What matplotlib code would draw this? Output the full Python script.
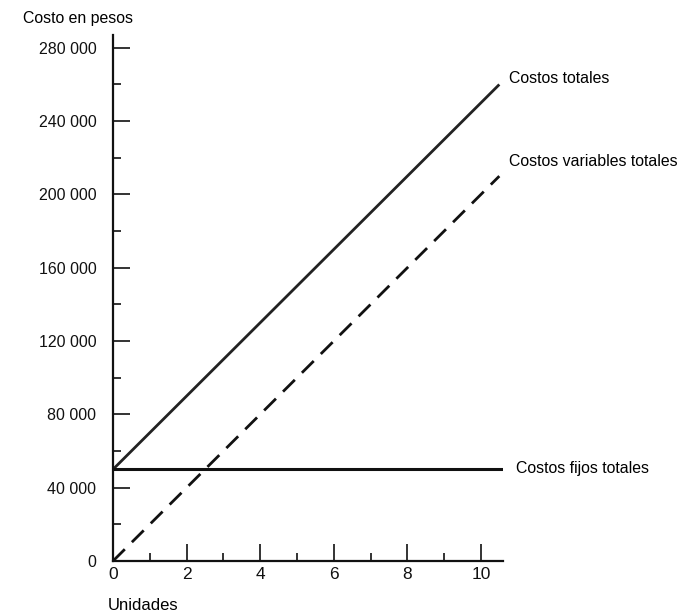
import matplotlib
matplotlib.use("Agg")
import matplotlib.pyplot as plt
import numpy as np

plt.rcParams['font.family'] = ['Liberation Sans', 'DejaVu Sans']

units = [0, 10.5]
fixed_units = [0, 10.6]
fixed_cost = [50000, 50000]
variable_cost = [0, 210000]
total_cost = [50000, 260000]

x_ticks_major = [0, 2, 4, 6, 8, 10]
x_ticks_minor = [1, 3, 5, 7, 9]
y_ticks_major = [0, 40000, 80000, 120000, 160000, 200000, 240000, 280000]
y_ticks_minor = [20000, 60000, 100000, 140000, 180000, 220000, 260000]
y_tick_labels = ["0", "40 000", "80 000", "120 000", "160 000", "200 000", "240 000", "280 000"]

fig = plt.figure(figsize=(6.77, 6.12), dpi=100)
ax = fig.add_axes([113/677, 1-561/612, (503-113)/677, (561-35)/612])

ax.plot(units, total_cost, color='#222222', lw=2.0, solid_capstyle='butt')
ax.plot(units, variable_cost, color='#111111', lw=2.0, dashes=(6, 3.6))
ax.plot(fixed_units, fixed_cost, color='#111111', lw=2.2)

ax.set_xlim(0, 10.6)
ax.set_ylim(0, 287000)

for s in ['top', 'right']:
    ax.spines[s].set_visible(False)
for s in ['left', 'bottom']:
    ax.spines[s].set_linewidth(1.6)
    ax.spines[s].set_color('#111111')

ax.set_xticks(x_ticks_major)
ax.set_xticklabels([str(v) for v in x_ticks_major])
ax.set_xticks(x_ticks_minor, minor=True)
ax.set_yticks(y_ticks_major)
ax.set_yticklabels(y_tick_labels)
ax.set_yticks(y_ticks_minor, minor=True)

ax.tick_params(axis='both', which='major', direction='in', length=12, width=1.2, colors='#111111')
ax.tick_params(axis='both', which='minor', direction='in', length=6, width=1.2, colors='#111111')
ax.tick_params(axis='y', which='major', pad=12, labelsize=11.5)
ax.tick_params(axis='x', which='major', pad=4, labelsize=12.5)

fs = 11.4
ax.text(10.75, 263000, "Costos totales", fontsize=fs, va='center', ha='left', clip_on=False)
ax.text(10.75, 218000, "Costos variables totales", fontsize=fs, va='center', ha='left', clip_on=False)
ax.text(10.95, 50500, "Costos fijos totales", fontsize=fs, va='center', ha='left', clip_on=False)

fig.text(23/677, 1-18/612, "Costo en pesos", fontsize=fs, va='center', ha='left')
fig.text(108/677, 1-605/612, "Unidades", fontsize=12, va='center', ha='left')

fig.savefig("out.png", dpi=100, facecolor='white')
